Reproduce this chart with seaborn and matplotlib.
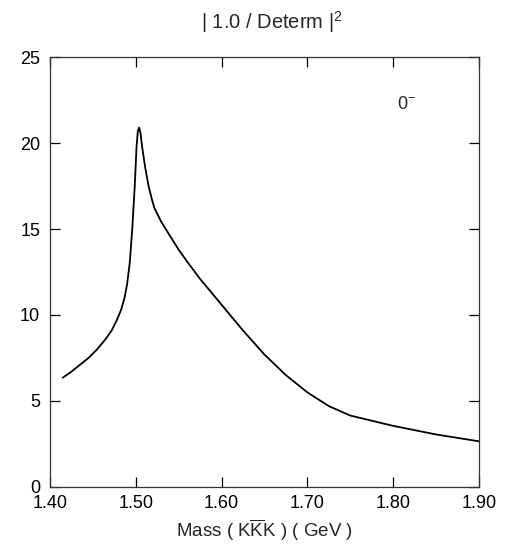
import matplotlib
matplotlib.use("Agg")
import matplotlib.pyplot as plt
import seaborn as sns
import pandas as pd

# curve
mass = [1.415, 1.425, 1.435, 1.445, 1.455, 1.465, 1.472, 1.478, 1.483, 1.487,
        1.490, 1.493, 1.496, 1.499, 1.501, 1.5025, 1.504, 1.5055, 1.508, 1.511,
        1.515, 1.519, 1.522, 1.53, 1.54, 1.55, 1.56, 1.575, 1.59, 1.60,
        1.625, 1.65, 1.675, 1.70, 1.725, 1.75, 1.775, 1.80, 1.825, 1.85,
        1.875, 1.90]
inv_det_sq = [6.35, 6.7, 7.1, 7.5, 8.0, 8.6, 9.1, 9.7, 10.3, 11.0,
              11.8, 13.0, 15.0, 17.6, 19.8, 20.7, 20.9, 20.6, 19.6, 18.6,
              17.5, 16.7, 16.2, 15.4, 14.6, 13.8, 13.1, 12.1, 11.2, 10.6,
              9.1, 7.7, 6.5, 5.5, 4.7, 4.15, 3.85, 3.55, 3.3, 3.05,
              2.85, 2.65]

x_ticks = [1.40, 1.50, 1.60, 1.70, 1.80, 1.90]
y_ticks = [0, 5, 10, 15, 20, 25]

sns.set_style("ticks")
plt.rcParams['font.family'] = ['Liberation Sans', 'DejaVu Sans']
plt.rcParams['mathtext.fontset'] = 'custom'
plt.rcParams['mathtext.rm'] = 'Liberation Sans'

df = pd.DataFrame({"mass": mass, "val": inv_det_sq})

fig = plt.figure(figsize=(5.09, 5.44), dpi=100)
ax = fig.add_axes([0.098, 0.105, 0.843, 0.79])
sns.lineplot(data=df, x="mass", y="val", ax=ax, color="black", linewidth=1.3)

ax.set_xlim(1.40, 1.90)
ax.set_ylim(0, 25)
ax.set_xticks(x_ticks)
ax.set_xticklabels([f"{t:.2f}" for t in x_ticks])
ax.set_yticks(y_ticks)
ax.tick_params(direction="in", length=7, width=0.9, top=True, right=True,
               labelsize=13, colors="black")
ax.tick_params(axis="x", pad=6)
ax.tick_params(axis="y", pad=7)
for lab in ax.get_yticklabels():
    lab.set_verticalalignment("center_baseline")
for s in ax.spines.values():
    s.set_visible(True)
    s.set_color("#333333")
    s.set_linewidth(0.9)

ax.set_xlabel(r"Mass ( K$\overline{\mathrm{K}}$K ) ( GeV )", fontsize=13.5, labelpad=4)
ax.set_ylabel("")
fig.text(0.535, 0.96, r"| 1.0 / Determ |$^{2}$", ha="center", va="center", fontsize=14.5)
ax.text(0.81, 0.89, r"0$^{-}$", transform=ax.transAxes, fontsize=13,
        ha="left", va="center")

fig.savefig("out.png", dpi=100)
